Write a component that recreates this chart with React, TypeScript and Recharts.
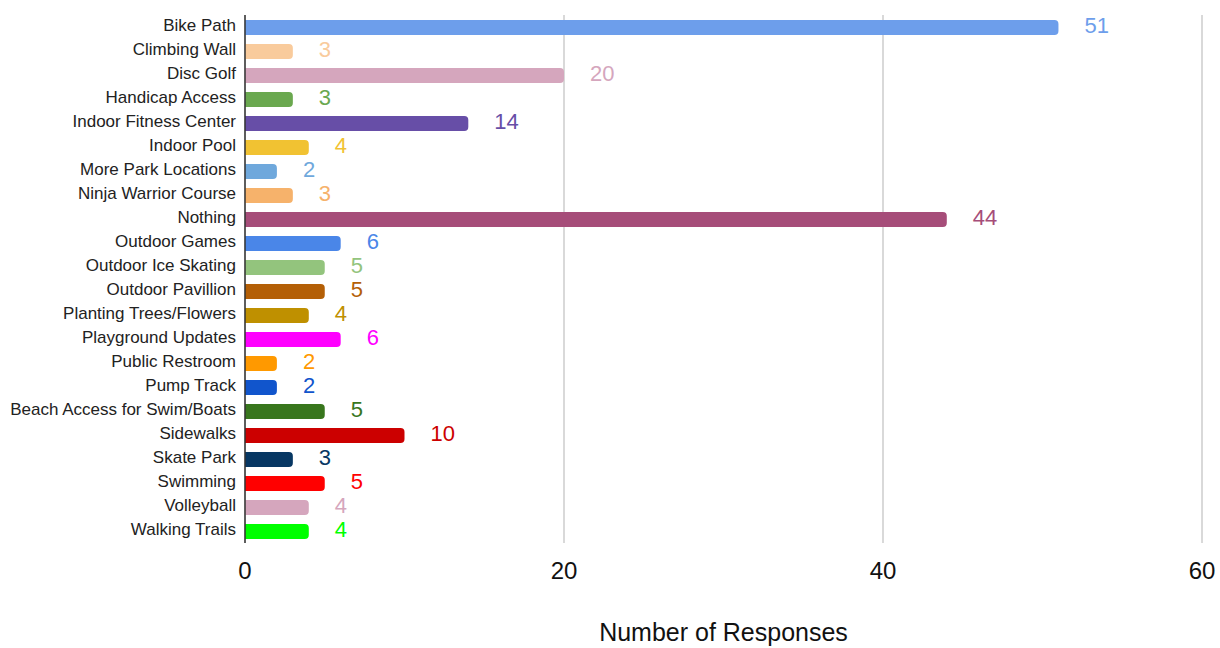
import React from "react";
import { BarChart, Bar, XAxis, YAxis, CartesianGrid, Cell, LabelList, Label } from "recharts";

const categories = [
  "Bike Path", "Climbing Wall", "Disc Golf", "Handicap Access", "Indoor Fitness Center",
  "Indoor Pool", "More Park Locations", "Ninja Warrior Course", "Nothing", "Outdoor Games",
  "Outdoor Ice Skating", "Outdoor Pavillion", "Planting Trees/Flowers", "Playground Updates",
  "Public Restroom", "Pump Track", "Beach Access for Swim/Boats", "Sidewalks", "Skate Park",
  "Swimming", "Volleyball", "Walking Trails",
];
const responses = [51, 3, 20, 3, 14, 4, 2, 3, 44, 6, 5, 5, 4, 6, 2, 2, 5, 10, 3, 5, 4, 4];
const colors = [
  "#6d9eeb", "#f9cb9c", "#d5a6bd", "#6aa84f", "#674ea7", "#f1c232", "#6fa8dc", "#f6b26b",
  "#a64d79", "#4a86e8", "#93c47d", "#b45f06", "#bf9000", "#ff00ff", "#ff9900", "#1155cc",
  "#38761d", "#cc0000", "#073763", "#ff0000", "#d5a6bd", "#00ff00",
];
const xTicks = [0, 20, 40, 60];

const data = categories.map((name, i) => ({ name, value: responses[i], color: colors[i] }));

const FONT = "Arial, 'Liberation Sans', Helvetica, sans-serif";

const renderValue = (props: any) => {
  const { x, y, width, height, value, index } = props;
  return (
    <text
      x={Number(x) + Number(width) + 26}
      y={Number(y) + Number(height) / 2}
      dy="0.24em"
      fill={colors[index]}
      fontSize={22}
      fontFamily={FONT}
      textAnchor="start"
    >
      {value}
    </text>
  );
};

const CategoryTick = (props: any) => {
  const { x, y, payload } = props;
  return (
    <text
      x={Number(x)}
      y={Number(y) - 2}
      dy="0.355em"
      textAnchor="end"
      fill="#222"
      fontSize={17}
      fontFamily={FONT}
    >
      {payload.value}
    </text>
  );
};

export default function App() {
  return (
    <div style={{ position: "absolute", left: 0, top: 0, background: "#fff" }}>
      <BarChart
        width={1220}
        height={648}
        data={data}
        layout="vertical"
        margin={{ top: 15, right: 18, bottom: 0, left: 0 }}
        barCategoryGap={0}
      >
        <CartesianGrid horizontal={false} vertical={true} stroke="#cccccc" strokeWidth={1.5} />
        <XAxis
          type="number"
          domain={[0, 60]}
          ticks={xTicks}
          height={105}
          axisLine={false}
          tickLine={false}
          tickSize={0}
          tickMargin={19}
          tick={{ fontSize: 24, fill: "#111", fontFamily: FONT }}
        >
          <Label
            value="Number of Responses"
            position="insideBottom"
            offset={7}
            style={{ fontSize: 25, fill: "#111", fontFamily: FONT }}
          />
        </XAxis>
        <YAxis
          type="category"
          dataKey="name"
          width={245}
          interval={0}
          axisLine={{ stroke: "#333", strokeWidth: 1.5 }}
          tickLine={false}
          tickSize={0}
          tickMargin={9}
          tick={<CategoryTick />}
        />
        <Bar dataKey="value" barSize={15} radius={[0, 4, 4, 0]} isAnimationActive={false}>
          {data.map((d, i) => (
            <Cell key={i} fill={d.color} />
          ))}
          <LabelList dataKey="value" content={renderValue} />
        </Bar>
      </BarChart>
    </div>
  );
}
